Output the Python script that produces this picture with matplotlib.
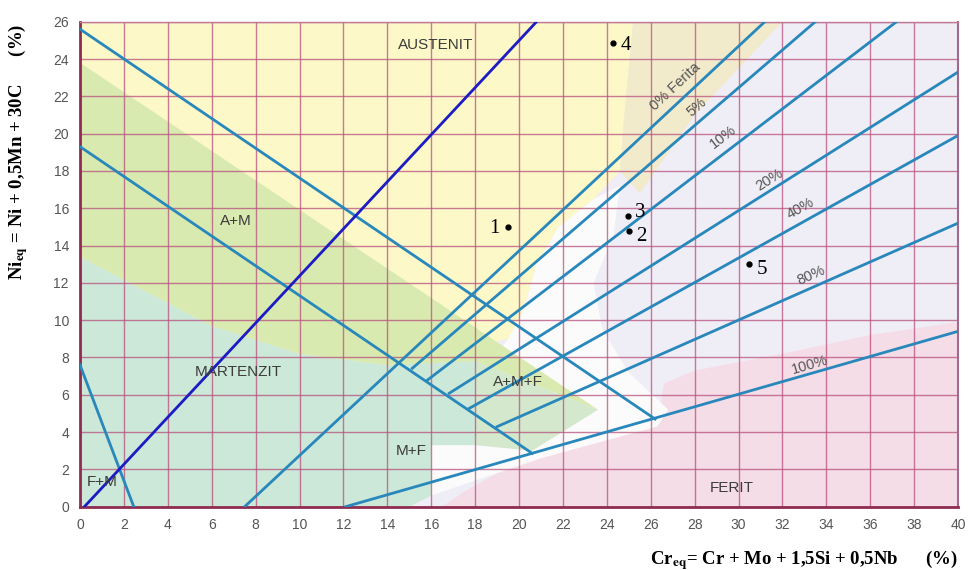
import numpy as np
import matplotlib.pyplot as plt
from matplotlib.patches import Polygon

plt.rcParams['font.family'] = ['Liberation Sans', 'DejaVu Sans']
plt.rcParams['mathtext.fontset'] = 'stix'

# --- data (Cr_eq, Ni_eq) ---
blue_x, blue_y = [0.2, 20.8], [0, 26]
lineA_x, lineA_y = [0, 26.2], [25.6, 4.7]
lineB_x, lineB_y = [0, 20.6], [19.3, 2.86]
fm_x, fm_y = [0, 2.45], [7.6, 0]

ferrite_names = ['0%', '5%', '10%', '20%', '40%', '80%', '100%']
ferrite_x0 = [7.5, 15.14, 15.83, 16.82, 17.73, 19.0, 12.1]
ferrite_y0 = [0, 7.42, 6.79, 6.08, 5.27, 4.29, 0]
ferrite_x1 = [31.2, 33.5, 37.2, 40, 40, 40, 40]
ferrite_y1 = [26, 26, 26, 23.3, 19.9, 15.2, 9.4]

label_text = ['0% Ferita', '5%', '10%', '20%', '40%', '80%', '100%']
label_x = [27.1, 28.1, 29.3, 31.4, 32.8, 33.3, 33.25]
label_y = [22.5, 21.4, 19.8, 17.5, 16.0, 12.4, 7.6]

pt_names = ['1', '2', '3', '4', '5']
pt_x = [19.48, 25.0, 24.95, 24.3, 30.47]
pt_y = [15.0, 14.8, 15.6, 24.85, 13.0]
# small offsets of the number labels (Ni_eq units)
pt_dy = [-0.1, -0.3, 0.15, -0.1, -0.3]

region_names = ['AUSTENIT', 'A+M', 'MARTENZIT', 'F+M', 'M+F', 'A+M+F', 'FERIT']
region_x = [16.2, 7.1, 7.2, 1.0, 15.1, 19.95, 29.7]
region_y = [24.75, 15.3, 7.2, 1.35, 3.0, 6.7, 1.0]

# background zones (approximate outlines)
zone_yellow = [(0, 26), (25.2, 26), (24.8, 21), (24.6, 18), (23.4, 16.5), (21.8, 15),
               (20.8, 13), (20.2, 10.5), (19.5, 9), (14, 7.5), (0, 7.5)]
zone_beige = [(25.2, 26), (32, 26), (28, 21), (25.5, 16.8), (24.6, 18), (24.8, 21)]
zone_white = [(20.2, 10.5), (20.8, 13), (21.8, 15), (23.4, 16.5), (24.6, 17.2), (24.3, 14.5),
              (23.4, 12), (23.8, 9.5), (25, 7.2), (26.8, 5.2), (26.3, 4.3), (21, 2.6),
              (16, 0.6), (13.5, 0), (12.1, 0), (16, 3.5), (19.5, 9)]
zone_pink = [(16.5, 0), (40, 0), (40, 9.9), (36, 9.2), (32, 8.2), (28, 7.3), (26.6, 6.6),
             (26.4, 5.0), (25, 4.1), (22, 3.0), (19, 1.8), (17.5, 0.8)]
zone_teal = [(0, 0), (15, 0), (16, 0.6), (16, 3.3), (18, 3.3), (18, 7.8), (14, 7.6),
             (10, 8.2), (6, 9.7), (0, 13.4)]
zone_green = [(0, 23.8), (23.6, 5.2), (18, 7.8), (14, 7.6), (10, 8.2), (6, 9.7), (0, 13.4)]
zone_amf = [(18, 7.8), (23.6, 5.2), (20.6, 3.0), (18, 3.3)]

fig = plt.figure(figsize=(9.69, 5.70), dpi=100)
ax = fig.add_axes([80 / 969, 63.3 / 570, 878 / 969, 485 / 570])
ax.set_facecolor('#efedf5')

for pts, col in [(zone_pink, '#f5dde7'), (zone_yellow, '#fcf8c8'), (zone_beige, '#f1ebcb'),
                 (zone_white, '#fbfbfb'), (zone_teal, '#cbe8d8'), (zone_green, '#d9eab0'),
                 (zone_amf, '#d3e8cc')]:
    ax.add_patch(Polygon(pts, closed=True, facecolor=col, edgecolor='none', zorder=0))

ax.set_xlim(0, 40)
ax.set_ylim(0, 26)
ax.set_xticks(np.arange(0, 41, 2))
ax.set_yticks(np.arange(0, 27, 2))
ax.grid(True, color='#b8507e', lw=1.0, alpha=0.75)
ax.set_axisbelow(True)
ax.tick_params(length=0, labelsize=10, labelcolor='#555555', pad=8)

for s in ['left', 'bottom']:
    ax.spines[s].set_color('#8e2d4f')
    ax.spines[s].set_linewidth(2)
ax.spines['right'].set_color('#a06a8c')
ax.spines['right'].set_linewidth(1.5)
ax.spines['top'].set_color('#c07a98')
ax.spines['top'].set_linewidth(1)

teal = '#2887bb'
for xs, ys in [(lineA_x, lineA_y), (lineB_x, lineB_y), (fm_x, fm_y)]:
    ax.plot(xs, ys, color=teal, lw=2, zorder=3)
for i in range(len(ferrite_names)):
    ax.plot([ferrite_x0[i], ferrite_x1[i]], [ferrite_y0[i], ferrite_y1[i]],
            color=teal, lw=2, zorder=3)
ax.plot(blue_x, blue_y, color='#1c1cc4', lw=2, zorder=4)

for i, t in enumerate(label_text):
    slope = (ferrite_y1[i] - ferrite_y0[i]) / (ferrite_x1[i] - ferrite_x0[i])
    ang = np.degrees(np.arctan(slope))
    ax.text(label_x[i], label_y[i], t, rotation=ang, transform_rotates_text=True,
            rotation_mode='anchor', ha='center', va='center', fontsize=10.5,
            color='#555555', zorder=5)

for i, t in enumerate(region_names):
    ax.text(region_x[i], region_y[i], t, ha='center', va='center', fontsize=11,
            color='#3c3c3c', zorder=5)

ax.plot(pt_x, pt_y, 'o', color='black', ms=3.5, zorder=6)
for i, t in enumerate(pt_names):
    if t == '1':
        ax.text(pt_x[i] - 0.35, pt_y[i] + pt_dy[i], t, ha='right', va='center', fontsize=15,
                family='Liberation Serif', zorder=6)
    else:
        ax.text(pt_x[i] + 0.35, pt_y[i] + pt_dy[i], t, ha='left', va='center', fontsize=15,
                family='Liberation Serif', zorder=6)

fig.text(18 / 969, 1 - 152 / 570, r'Ni$_{\mathbf{eq}}$ = Ni + 0,5Mn + 30C      (%)',
         rotation=90, ha='center', va='center', fontsize=13.5, fontweight='bold',
         family='Liberation Serif')
fig.text(958 / 969, 1 - 560 / 570, r'Cr$_{\mathbf{eq}}$= Cr + Mo + 1,5Si + 0,5Nb      (%)',
         ha='right', va='center', fontsize=13.5, fontweight='bold', family='Liberation Serif')

fig.savefig('out.png', dpi=100)
